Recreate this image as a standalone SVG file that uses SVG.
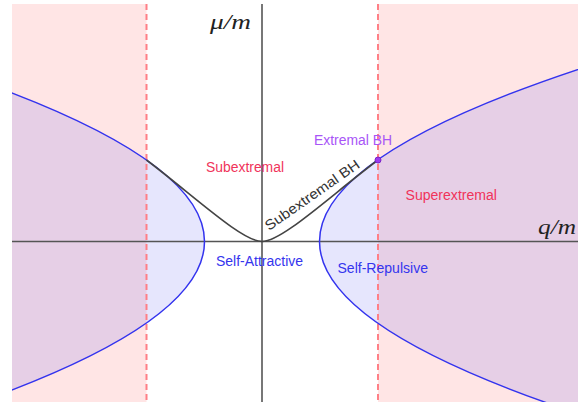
<svg xmlns="http://www.w3.org/2000/svg" width="578" height="405" viewBox="0 0 578 405">
<style>
.lbl{font-family:"Liberation Sans",Arial,sans-serif;font-size:14px}
.red{fill:#f0335a}
.blue{fill:#3535ee}
.math{font-family:"Liberation Serif","Times New Roman",serif;font-style:italic;font-size:20px;fill:#222}
.dash{stroke:#ff7f86;stroke-width:2;stroke-dasharray:6,4;fill:none}
.axis{stroke:#555;stroke-width:1.6;fill:none}
.par{stroke:#3333ee;stroke-width:1.5;fill:none}
.sub{stroke:#444;stroke-width:1.6;fill:none}
</style>
<defs>
<clipPath id="plot"><rect x="12" y="4" width="566" height="398"/></clipPath>
</defs>
<rect width="578" height="405" fill="#fff"/>
<g id="regions" clip-path="url(#plot)">
<rect x="12" y="4" width="134.5" height="398" fill="#ffe5e5"/>
<rect x="378" y="4" width="200" height="398" fill="#ffe5e5"/>
<path d="M822.5,1.5 Q-183.5,241.5 822.5,481.5 Z" fill="#3333ee" fill-opacity="0.12"/>
<path d="M-298.5,1.5 Q707.5,241.5 -298.5,481.5 Z" fill="#3333ee" fill-opacity="0.12"/>
</g>
<g id="connectors" clip-path="url(#plot)">
<line class="dash" x1="146.5" y1="4" x2="146.5" y2="402"/>
<line class="dash" x1="378" y1="4" x2="378" y2="402"/>
<line class="axis" x1="262" y1="4" x2="262" y2="402"/>
<line class="axis" x1="12" y1="241.5" x2="578" y2="241.5"/>
<path class="par" d="M822.5,1.5 Q-183.5,241.5 822.5,481.5"/>
<path class="par" d="M-298.5,1.5 Q707.5,241.5 -298.5,481.5"/>
<path class="sub" d="M262,241.5 C282,241.5 330,196 378,160"/>
<path class="sub" d="M262,241.5 C242,241.5 194,196 146.5,160"/>
</g>
<g id="extremal-point">
<circle cx="378" cy="160" r="3" fill="#9a3cf0" stroke="#7a22c8" stroke-width="1"/>
<text class="lbl" x="314" y="145" fill="#a855f7" textLength="78" lengthAdjust="spacingAndGlyphs">Extremal BH</text>
</g>
<g id="subextremal-region">
<text class="lbl red" x="206" y="172" textLength="78" lengthAdjust="spacingAndGlyphs">Subextremal</text>
</g>
<g id="superextremal-region">
<text class="lbl red" x="405.5" y="200" textLength="91.5" lengthAdjust="spacingAndGlyphs">Superextremal</text>
</g>
<g id="self-attractive">
<text class="lbl blue" x="216" y="266" textLength="87" lengthAdjust="spacingAndGlyphs">Self-Attractive</text>
</g>
<g id="self-repulsive">
<text class="lbl blue" x="337.5" y="272.5" textLength="90.5" lengthAdjust="spacingAndGlyphs">Self-Repulsive</text>
</g>
<g id="subextremal-bh">
<text class="lbl" x="0" y="0" fill="#333" font-size="15.5" textLength="112" lengthAdjust="spacingAndGlyphs" transform="translate(269,231) rotate(-35)">Subextremal BH</text>
</g>
<g id="axis-labels">
<text class="math" x="210" y="29" textLength="41" lengthAdjust="spacingAndGlyphs">μ/m</text>
<text class="math" x="538" y="233.5" textLength="38" lengthAdjust="spacingAndGlyphs">q/m</text>
</g>
</svg>
